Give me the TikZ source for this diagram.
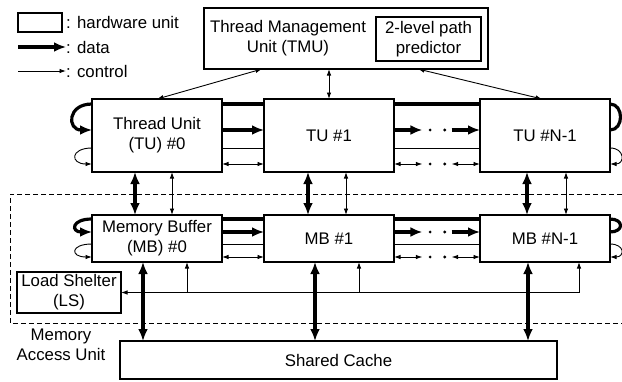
\documentclass[tikz,border=0pt]{standalone}
\usepackage{fontspec}
\setmainfont{Liberation Sans}
\usetikzlibrary{arrows.meta,positioning,calc}
% arrow in a ring gap, broken by two dots
\newcommand{\dotgap}[3]{%
  \path #2 -- coordinate[pos=.33] (g1) coordinate[pos=.42] (g2)
               coordinate[pos=.59] (g3) coordinate[pos=.67] (g4) #3;
  \draw[#1] #2 -- (g1);
  \draw[#1] (g4) -- #3;
  \fill (g2) circle (1.6) (g3) circle (1.6);}

\begin{document}
\begin{tikzpicture}[x=1pt,y=-1pt,font=\fontsize{16.8}{20}\selectfont,
   hw/.style={draw,line width=1.2pt,inner sep=0pt,outer sep=0pt,align=center},
   unit/.style={hw,minimum width=130pt,minimum height=73pt},
   buf/.style={hw,minimum width=130pt,minimum height=47pt},
   txt/.style={inner sep=0pt,align=center},
   data/.style={line width=3.2pt,>={Latex[length=12pt,width=10pt]}},
   ctrl/.style={line width=0.9pt,>={Latex[length=6.5pt,width=4.5pt]}}]
  \useasboundingbox (0,0) rectangle (622,381);
  % key
  \node[hw,minimum width=44pt,minimum height=19pt] (key) at (40,22.5) {};
  \node[txt,anchor=west] (keyhw) at (66,22) {: hardware unit};
  \node[txt,anchor=west] (keyd) at (66,47) {: data};
  \node[txt,anchor=west] (keyc) at (66,71) {: control};
  \coordinate (kd0) at (18,47);
  \coordinate (kc0) at (18,71);
  \draw[data,->] (kd0) -- (keyd.west);
  \draw[ctrl,->] (kc0) -- (keyc.west);
  % memory access unit frame
  \draw[line width=0.8pt,dash pattern=on 5pt off 3pt] (622,194) -| (10,323) -- (622,323);
  \node[txt] (mau) at (61,345) {Memory\\Access Unit};
  % units
  \node[hw,minimum width=284pt,minimum height=61pt] (tmu) at (346,38.5) {};
  \node[txt] (tmutxt) at (288,38) {Thread Management\\Unit (TMU)};
  \node[hw,minimum width=105pt,minimum height=44pt] (pred) at (428.5,39) {2-level path\\predictor};
  \node[unit] (tu0) at (157,135.5) {Thread Unit\\(TU) \#0};
  \node[unit,right=42pt of tu0] (tu1) {TU \#1};
  \node[unit,right=86pt of tu1] (tun) {TU \#N-1};
  \node[buf,below=43pt of tu0] (mb0) {Memory Buffer\\(MB) \#0};
  \node[buf,below=43pt of tu1] (mb1) {MB \#1};
  \node[buf,below=43pt of tun] (mbn) {MB \#N-1};
  \node[hw,minimum width=104pt,minimum height=41pt] (ls) at (69,292.5) {Load Shelter\\(LS)};
  \node[hw,minimum width=437pt,minimum height=38pt] (sc) at (338.5,360) {Shared Cache};
  % TMU to thread units
  \draw[ctrl,<->] (tu0.north) -- ([xshift=-84pt]tmu.south);
  \draw[ctrl,<->] (tu1.north) -- (tu1.north |- tmu.south);
  \draw[ctrl,<->] ([xshift=72pt]tmu.south) -- ([xshift=-3pt]tun.north);
  % thread unit ring
  \draw[data] ([yshift=-5pt]tu0.north east) -- ([yshift=-5pt]tu1.north west);
  \draw[data] ([yshift=-5pt]tu1.north east) -- ([yshift=-5pt]tun.north west);
  \draw[data,->] ([yshift=5.5pt]tu0.east) -- ([yshift=5.5pt]tu1.west);
  \dotgap{data,->}{([yshift=5.5pt]tu1.east)}{([yshift=5.5pt]tun.west)}
  \draw[ctrl] ([yshift=-12.5pt]tu0.east) -- ([yshift=-12.5pt]tu1.west);
  \draw[ctrl] ([yshift=-12.5pt]tu1.east) -- ([yshift=-12.5pt]tun.west);
  \draw[ctrl,<->] ([yshift=8pt]tu0.south east) -- ([yshift=8pt]tu1.south west);
  \dotgap{ctrl,<->}{([yshift=8pt]tu1.south east)}{([yshift=8pt]tun.south west)}
  \draw[data,->] ([yshift=-5pt]tu0.north west) .. controls +(-25,0) and +(-25,0) .. ([yshift=5.5pt]tu0.west);
  \draw[ctrl,->] ([yshift=-12.5pt]tu0.west) .. controls +(-22,0) and +(-22,0) .. ([yshift=8pt]tu0.south west);
  \draw[data] ([yshift=5.5pt]tun.east) .. controls +(14,0) and +(14,0) .. ([yshift=-5pt]tun.north east);
  \draw[ctrl,->] ([yshift=-12.5pt]tun.east) .. controls +(15,0) and +(15,0) .. ([yshift=8pt]tun.south east);
  % thread units to memory buffers
  \draw[data,<->] ([xshift=-22pt]tu0.south) -- ([xshift=-22pt]mb0.north);
  \draw[ctrl,<->] ([xshift=15pt]tu0.south) -- ([xshift=15pt]mb0.north);
  \draw[data,<->] ([xshift=-21pt]tu1.south) -- ([xshift=-21pt]mb1.north);
  \draw[ctrl,<->] ([xshift=17pt]tu1.south) -- ([xshift=17pt]mb1.north);
  \draw[data,<->] ([xshift=-18pt]tun.south) -- ([xshift=-18pt]mbn.north);
  \draw[ctrl,<->] ([xshift=21pt]tun.south) -- ([xshift=21pt]mbn.north);
  % memory buffer ring
  \draw[data] ([yshift=-4pt]mb0.north east) -- ([yshift=-4pt]mb1.north west);
  \draw[data] ([yshift=-4pt]mb1.north east) -- ([yshift=-4pt]mbn.north west);
  \draw[data,->] ([yshift=6.5pt]mb0.east) -- ([yshift=6.5pt]mb1.west);
  \dotgap{data,->}{([yshift=6.5pt]mb1.east)}{([yshift=6.5pt]mbn.west)}
  \draw[ctrl] ([yshift=-5.5pt]mb0.east) -- ([yshift=-5.5pt]mb1.west);
  \draw[ctrl] ([yshift=-5.5pt]mb1.east) -- ([yshift=-5.5pt]mbn.west);
  \draw[ctrl,<->] ([yshift=5pt]mb0.south east) -- ([yshift=5pt]mb1.south west);
  \dotgap{ctrl,<->}{([yshift=5pt]mb1.south east)}{([yshift=5pt]mbn.south west)}
  \draw[data,->] ([yshift=-4pt]mb0.north west) .. controls +(-21,0) and +(-21,0) .. ([yshift=6.5pt]mb0.west);
  \draw[ctrl,->] ([yshift=-5.5pt]mb0.west) .. controls +(-22,0) and +(-22,0) .. ([yshift=5pt]mb0.south west);
  \draw[data] ([yshift=6.5pt]mbn.east) .. controls +(14,0) and +(14,0) .. ([yshift=-4pt]mbn.north east);
  \draw[ctrl,->] ([yshift=-5.5pt]mbn.east) .. controls +(15,0) and +(15,0) .. ([yshift=5pt]mbn.south east);
  % memory buffers to shared cache
  \draw[data,<->] ([xshift=-14pt]mb0.south) -- ([xshift=-14pt]mb0.south |- sc.north);
  \draw[data,<->] ([xshift=-14pt]mb1.south) -- ([xshift=-14pt]mb1.south |- sc.north);
  \draw[data,<->] ([xshift=-17pt]mbn.south) -- ([xshift=-17pt]mbn.south |- sc.north);
  % load shelter bus
  \draw[ctrl,<->] ([xshift=34pt]mbn.south) |- (ls.east);
  \draw[ctrl,->] ([xshift=30pt]mb0.south |- ls.east) -- ([xshift=30pt]mb0.south);
  \draw[ctrl,->] ([xshift=30pt]mb1.south |- ls.east) -- ([xshift=30pt]mb1.south);
\end{tikzpicture}
\end{document}
